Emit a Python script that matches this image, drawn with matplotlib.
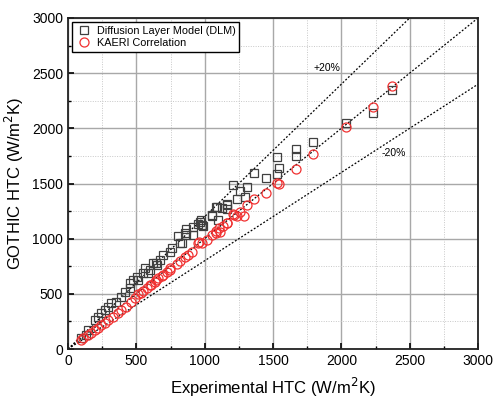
import numpy as np
import matplotlib.pyplot as plt
from matplotlib.ticker import MultipleLocator

plt.rcParams['font.family'] = ['Liberation Sans', 'DejaVu Sans']

# Diffusion Layer Model (DLM): experimental HTC, GOTHIC HTC
dlm_exp = [98, 134, 146, 195, 220, 244, 268, 293, 317, 354, 390, 415, 451, 454,
           478, 502, 512, 551, 563, 585, 600, 624, 646, 649, 673, 697, 746, 759,
           807, 820, 832, 856, 863, 863, 912, 917, 953, 966, 971, 978, 990, 1051,
           1051, 1083, 1093, 1100, 1127, 1161, 1166, 1166, 1210, 1239, 1258, 1293,
           1312, 1361, 1449, 1527, 1532, 1546, 1668, 1668, 1795, 2032, 2234, 2370]
dlm_goth = [97, 127, 172, 263, 293, 323, 353, 383, 414, 429, 474, 519, 550, 595,
            625, 655, 625, 691, 731, 686, 716, 777, 777, 761, 806, 852, 882, 912,
            1020, 957, 957, 1048, 1085, 1030, 1033, 1103, 1133, 1154, 1169, 1124, 1115, 1205,
            1214, 1284, 1284, 1169, 1275, 1305, 1314, 1266, 1486, 1357, 1432, 1375,
            1471, 1598, 1553, 1586, 1743, 1636, 1810, 1749, 1873, 2051, 2142, 2350]

# KAERI Correlation
kaeri_exp = [98, 110, 146, 171, 195, 220, 244, 268, 293, 329, 366, 390, 427, 463,
             488, 515, 537, 551, 576, 600, 610, 637, 646, 661, 685, 695, 722, 744,
             746, 795, 820, 856, 880, 905, 953, 961, 978, 1020, 1051, 1083, 1083,
             1107, 1112, 1136, 1161, 1161, 1205, 1215, 1239, 1258, 1290, 1307, 1361,
             1449, 1527, 1541, 1668, 1795, 2032, 2234, 2370]
kaeri_goth = [82, 97, 127, 141, 172, 187, 218, 233, 263, 293, 323, 353, 383, 429,
              459, 500, 505, 530, 555, 580, 580, 610, 625, 640, 660, 671, 700, 731,
              720, 770, 800, 830, 850, 880, 957, 973, 963, 988, 1033, 1048, 1072,
              1094, 1063, 1115, 1138, 1145, 1220, 1214, 1205, 1244, 1208, 1301, 1362,
              1413, 1501, 1492, 1631, 1764, 2009, 2190, 2380]

fig = plt.figure(figsize=(4.94, 3.99), dpi=100)
ax = fig.add_axes([0.1377, 0.1253, 0.8299, 0.8296])

ref = np.array([0, 3000])
ax.plot(ref, ref, color='black', ls=(0, (1.5, 1.5)), lw=0.9, zorder=2)
ax.plot(ref / 1.2, ref, color='black', ls=(0, (1.5, 1.5)), lw=0.9, zorder=2)
ax.plot(ref, ref * 0.8, color='black', ls=(0, (1.5, 1.5)), lw=0.9, zorder=2)

ax.plot(dlm_exp, dlm_goth, ls='none', marker='s', ms=5.5, mfc='none',
        mec='#404040', mew=0.9, label='Diffusion Layer Model (DLM)', zorder=3)
ax.plot(kaeri_exp, kaeri_goth, ls='none', marker='o', ms=6.5, mfc='none',
        mec='#f03030', mew=0.9, label='KAERI Correlation', zorder=3)

ax.text(1895, 2550, '+20%', fontsize=7.5, ha='center', va='center')
ax.text(2385, 1776, '-20%', fontsize=7.5, ha='center', va='center')

ax.set_xlim(0, 3000)
ax.set_ylim(0, 3000)
ax.xaxis.set_major_locator(MultipleLocator(500))
ax.yaxis.set_major_locator(MultipleLocator(500))
ax.xaxis.set_minor_locator(MultipleLocator(250))
ax.yaxis.set_minor_locator(MultipleLocator(250))
ax.grid(which='major', color='#a8a8a8', lw=1.0, zorder=0)
ax.grid(which='minor', color='#c8c8c8', lw=0.7, ls=(0, (1, 1.5)), zorder=0)
ax.set_axisbelow(True)
ax.tick_params(which='both', direction='in', labelsize=10, top=False, right=False)
ax.tick_params(which='major', length=4, width=1.2)
ax.tick_params(which='minor', length=2.5, width=1.0)
for s in ax.spines.values():
    s.set_linewidth(1.3)
    s.set_color('#222222')

ax.set_xlabel('Experimental HTC (W/m$^2$K)', fontsize=12, labelpad=6)
ax.set_ylabel('GOTHIC HTC (W/m$^2$K)', fontsize=12, labelpad=4)

leg = ax.legend(loc='upper left', fontsize=7.8, frameon=True, fancybox=False,
                edgecolor='black', framealpha=1, borderpad=0.3, handletextpad=0.5,
                labelspacing=0.25, handlelength=1.5, borderaxespad=0.4)
leg.get_frame().set_linewidth(1.0)

fig.savefig('out.png', dpi=100)
